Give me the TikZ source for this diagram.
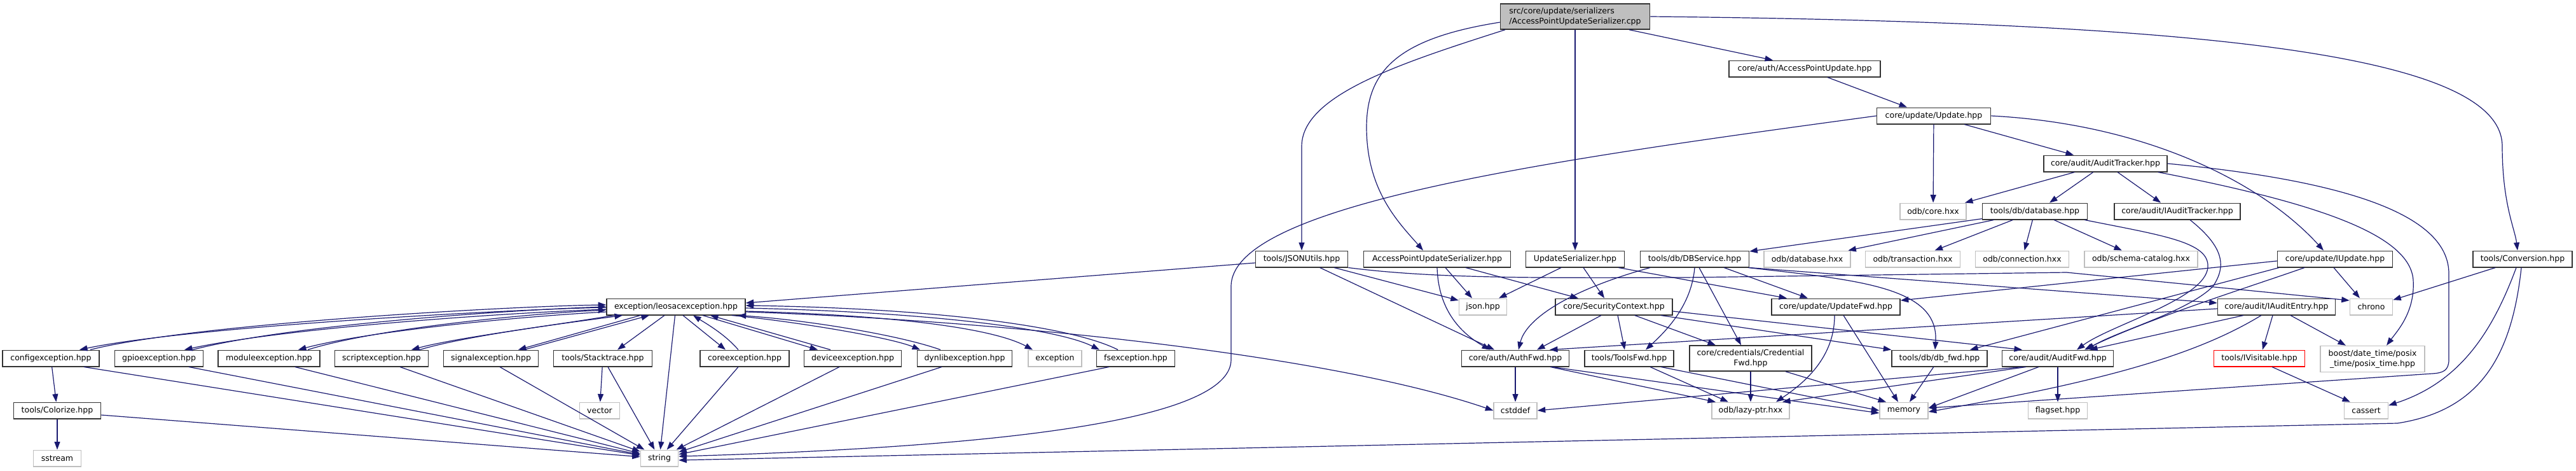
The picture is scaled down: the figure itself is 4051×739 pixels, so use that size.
\documentclass[tikz,border=0pt]{standalone}
\usepackage{fontspec}
\setmainfont{DejaVu Sans}
\usetikzlibrary{arrows.meta}
\definecolor{edgec}{HTML}{191970}
\definecolor{sysb}{HTML}{BFBFBF}
\definecolor{nodeb}{HTML}{333333}
\newcommand{\ndfont}{\fontsize{12.5pt}{15.5pt}\selectfont}
\begin{document}
\begin{tikzpicture}[x=1pt,y=-1pt,
  nd/.style={draw=nodeb, line width=1.5pt, fill=white, rectangle, minimum height=25.5pt, inner xsep=3pt, inner ysep=1pt, font=\ndfont, text=black},
  sysn/.style={nd, draw=sysb},
  redn/.style={nd, draw=red},
  ed/.style={draw=edgec, line width=1.2pt, -{Triangle[length=12.5pt,width=9pt]}}]
\useasboundingbox (0,0) rectangle (4051,739);
% ---------- nodes ----------
\node[nd, fill=sysb, align=left, minimum width=235pt, minimum height=40pt] (root) at (2477,26) {src/core/update/serializers\\/AccessPointUpdateSerializer.cpp};
\node[nd, minimum width=238pt] (apu) at (2838,108) {core/auth/AccessPointUpdate.hpp};
\node[nd, minimum width=179pt] (upd) at (3041,182) {core/update/Update.hpp};
\node[nd, minimum width=194pt] (atr) at (3311,257) {core/audit/AuditTracker.hpp};
\node[sysn, minimum width=104pt] (odbcore) at (3040,332) {odb/core.hxx};
\node[nd, minimum width=165pt] (dbh) at (3200,332) {tools/db/database.hpp};
\node[nd, minimum width=198pt] (iatr) at (3424,332) {core/audit/IAuditTracker.hpp};
% row 5
\node[nd, minimum width=145pt] (jsonu) at (2047,407) {tools/JSONUtils.hpp};
\node[nd, minimum width=231pt] (apus) at (2260,407) {AccessPointUpdateSerializer.hpp};
\node[nd, minimum width=155pt] (upser) at (2477,407) {UpdateSerializer.hpp};
\node[nd, minimum width=171pt] (dbs) at (2665,407) {tools/db/DBService.hpp};
\node[sysn, minimum width=136pt] (odbdb) at (2842,407) {odb/database.hxx};
\node[sysn, minimum width=149pt] (odbtr) at (3008,407) {odb/transaction.hxx};
\node[sysn, minimum width=147pt] (odbcn) at (3180,407) {odb/connection.hxx};
\node[sysn, minimum width=178pt] (odbsc) at (3367,407) {odb/schema-catalog.hxx};
\node[nd, minimum width=181pt] (iupd) at (3672,407) {core/update/IUpdate.hpp};
\node[nd, minimum width=156pt] (conv) at (3967,407) {tools/Conversion.hpp};
% row 6
\node[nd, minimum width=218pt] (leo) at (1063,482) {exception/leosacexception.hpp};
\node[sysn, minimum width=75pt] (json) at (2332,482) {json.hpp};
\node[nd, minimum width=184pt] (secctx) at (2538,482) {core/SecurityContext.hpp};
\node[nd, minimum width=202pt] (updfwd) at (2887,482) {core/update/UpdateFwd.hpp};
\node[nd, minimum width=185pt] (iae) at (3580,482) {core/audit/IAuditEntry.hpp};
\node[sysn, minimum width=67pt] (chrono) at (3729,482) {chrono};
% row 7
\node[nd, minimum width=152pt] (cfgx) at (80,563) {configexception.hpp};
\node[nd, minimum width=139pt] (gpiox) at (250,563) {gpioexception.hpp};
\node[nd, minimum width=160pt] (modx) at (423,563) {moduleexception.hpp};
\node[nd, minimum width=147pt] (scrx) at (600,563) {scriptexception.hpp};
\node[nd, minimum width=149pt] (sigx) at (772,563) {signalexception.hpp};
\node[nd, minimum width=155pt] (stk) at (948,563) {tools/Stacktrace.hpp};
\node[nd, minimum width=140pt] (corex) at (1171,563) {coreexception.hpp};
\node[nd, minimum width=153pt] (devx) at (1341,563) {deviceexception.hpp};
\node[nd, minimum width=149pt] (dynx) at (1517,563) {dynlibexception.hpp};
\node[sysn, minimum width=84pt] (exc) at (1659,563) {exception};
\node[nd, minimum width=123pt] (fsx) at (1786,563) {fsexception.hpp};
\node[nd, minimum width=169pt] (authfwd) at (2383,563) {core/auth/AuthFwd.hpp};
\node[nd, minimum width=140pt] (toolsfwd) at (2562,563) {tools/ToolsFwd.hpp};
\node[nd, align=center, minimum width=192pt, minimum height=40pt] (credfwd) at (2753,563) {core/credentials/Credential\\Fwd.hpp};
\node[nd, minimum width=150pt] (dbfwd) at (3050,563) {tools/db/db\_fwd.hpp};
\node[nd, minimum width=175pt] (auditfwd) at (3236,563) {core/audit/AuditFwd.hpp};
\node[redn, minimum width=143pt] (ivis) at (3553,563) {tools/IVisitable.hpp};
\node[sysn, align=center, minimum width=164pt, minimum height=41pt] (boost) at (3731,564) {boost/date\_time/posix\\\_time/posix\_time.hpp};
% row 8
\node[nd, minimum width=137pt] (colz) at (90,645) {tools/Colorize.hpp};
\node[sysn, minimum width=63pt] (vec) at (943,645) {vector};
\node[sysn, minimum width=68pt] (cstddef) at (2383,645) {cstddef};
\node[sysn, minimum width=122pt] (lazy) at (2753,645) {odb/lazy-ptr.hxx};
\node[sysn, minimum width=76pt] (memory) at (2994,645) {memory};
\node[sysn, minimum width=93pt] (flagset) at (3236,645) {flagset.hpp};
\node[sysn, minimum width=69pt] (cassert) at (3721,645) {cassert};
% row 9
\node[sysn, minimum width=75pt] (sstream) at (90,720) {sstream};
\node[sysn, minimum width=59pt] (string) at (1037,720) {string};
% ---------- edges ----------
% root
\draw[ed] ([yshift=-9pt]root.west) .. controls (2200,60) and (2149,110) .. (2149,200) .. controls (2149,300) and (2200,350) .. ([xshift=-22pt]apus.north);
\draw[ed] ([xshift=-110pt]root.south) .. controls (2200,100) and (2047,150) .. (2047,230) -- (jsonu.north);
\draw[ed] (root.south) -- (upser.north);
\draw[ed] ([xshift=85pt]root.south) -- ([xshift=-50pt]apu.north);
\draw[ed] (root.east) .. controls (3500,35) and (3935,90) .. (3935,230) .. controls (3935,320) and (3955,360) .. ([xshift=-8pt]conv.north);
% apu, update
\draw[ed] (apu) -- ([xshift=-42pt]upd.north);
\draw[ed] (upd) -- (odbcore);
\draw[ed] (upd) -- ([xshift=-50pt]atr.north);
\draw[ed] (upd.east) .. controls (3380,195) and (3560,290) .. ([xshift=-18pt]iupd.north);
\draw[ed] (upd.west) .. controls (2450,250) and (1936,320) .. (1936,450) -- (1936,565) .. controls (1936,650) and (1650,700) .. ([yshift=3pt]string.east);
% audit tracker
\draw[ed] (atr) -- ([xshift=50pt]odbcore.north);
\draw[ed] (atr) -- ([xshift=23pt]dbh.north);
\draw[ed] (atr) -- ([xshift=-26pt]iatr.north);
\draw[ed] ([xshift=-15pt]atr.south east) .. controls (3650,320) and (3790,370) .. (3795,440) .. controls (3798,490) and (3770,520) .. ([xshift=22pt]boost.north);
\draw[ed] (atr.east) .. controls (3700,285) and (3851,340) .. (3851,430) -- (3851,565) .. controls (3851,582) and (3842,586) .. (3825,587) -- ([yshift=4pt]memory.east);
% database
\draw[ed] (dbh) -- (dbs);
\draw[ed] (dbh) -- (odbdb);
\draw[ed] (dbh) -- (odbtr);
\draw[ed] (dbh) -- (odbcn);
\draw[ed] (dbh) -- (odbsc);
\draw[ed] ([xshift=-5pt]dbh.south east) .. controls (3400,370) and (3475,380) .. (3472,420) .. controls (3468,470) and (3320,510) .. ([xshift=30pt]auditfwd.north);
\draw[ed] ([xshift=20pt]iatr.south) .. controls (3500,390) and (3500,420) .. (3480,450) .. controls (3440,490) and (3330,520) .. ([xshift=45pt]auditfwd.north);
% JSONUtils
\draw[ed] ([yshift=-6pt]jsonu.west) -- ([yshift=6pt]leo.east);
\draw[ed] (jsonu) -- (json);
\draw[ed] (jsonu) -- ([xshift=-33pt]authfwd.north);
\draw[ed] (jsonu.south east) .. controls (2250,437) and (2400,437) .. (2650,436) -- (3250,428) -- ([yshift=10pt]chrono.west);
% AccessPointUpdateSerializer.hpp
\draw[ed] ([xshift=13pt]apus.south) -- ([xshift=-17pt]json.north);
\draw[ed] ([xshift=45pt]apus.south) -- ([xshift=-56pt]secctx.north);
\draw[ed] (apus.south) .. controls (2262,490) and (2300,525) .. ([xshift=-40pt]authfwd.north);
% UpdateSerializer
\draw[ed] ([xshift=-22pt]upser.south) -- ([xshift=25pt]json.north);
\draw[ed] ([xshift=13pt]upser.south) -- ([xshift=-15pt]secctx.north);
\draw[ed] ([xshift=-10pt]upser.south east) -- ([xshift=-77pt]updfwd.north);
% DBService
\draw[ed] ([xshift=-70pt]dbs.south) .. controls (2470,455) and (2400,500) .. ([xshift=5pt]authfwd.north);
\draw[ed] (dbs.south) .. controls (2660,480) and (2620,520) .. ([xshift=26pt]toolsfwd.north);
\draw[ed] ([xshift=7pt]dbs.south) -- ([xshift=-15pt]credfwd.north);
\draw[ed] ([xshift=-40pt]dbs.south east) -- ([xshift=-44pt]updfwd.north);
\draw[ed] ([xshift=-2pt]dbs.south east) .. controls (2920,440) and (3050,450) .. ([xshift=-7pt]dbfwd.north);
\draw[ed] (dbs.south east) -- ([yshift=6pt]iae.west);
% SecurityContext
\draw[ed] ([xshift=-20pt]secctx.south) -- ([xshift=34pt]authfwd.north);
\draw[ed] ([xshift=6pt]secctx.south) -- ([xshift=-7pt]toolsfwd.north);
\draw[ed] ([xshift=-60pt]secctx.south east) -- ([xshift=-55pt]credfwd.north);
\draw[ed] ([xshift=-19pt]secctx.south east) -- (dbfwd.north west);
\draw[ed] ([yshift=-7pt]secctx.east) -- ([xshift=-56pt]auditfwd.north);
% UpdateFwd
\draw[ed] ([xshift=-2pt]updfwd.south) .. controls (2885,560) and (2840,600) .. ([xshift=40pt]lazy.north);
\draw[ed] ([xshift=12pt]updfwd.south) -- ([xshift=-9pt]memory.north);
% IUpdate
\draw[ed] ([yshift=-3pt]iupd.west) -- ([yshift=10pt]updfwd.east);
\draw[ed] ([xshift=-2pt]iupd.south) -- ([xshift=-18pt]chrono.north);
\draw[ed] ([xshift=-48pt]iupd.south) .. controls (3540,450) and (3380,500) .. ([xshift=42pt]auditfwd.north);
\draw[ed] ([xshift=-88pt]iupd.south) -- ([xshift=48pt]dbfwd.north);
% IAuditEntry
\draw[ed] ([xshift=-52pt]iae.south) -- ([xshift=50pt]auditfwd.north);
\draw[ed] ([xshift=-6pt]iae.south) -- ([xshift=5pt]ivis.north);
\draw[ed] ([xshift=22pt]iae.south) -- ([xshift=-42pt]boost.north);
\draw[ed] ([xshift=-24pt]iae.south) .. controls (3450,560) and (3300,600) .. ([yshift=-2pt]memory.east);
\draw[ed] ([yshift=-3pt]iae.west) -- ([xshift=54pt]authfwd.north);
% IVisitable
\draw[ed] ([xshift=20pt]ivis.south) -- ([xshift=-25pt]cassert.north);
% forward headers
\draw[ed] (credfwd) -- (lazy);
\draw[ed] ([xshift=55pt]credfwd.south) -- ([xshift=-28pt]memory.north);
\draw[ed] ([xshift=33pt]toolsfwd.south) -- ([xshift=-35pt]lazy.north);
\draw[ed] ([xshift=50pt]toolsfwd.south) -- (memory.west);
\draw[ed] (authfwd) -- (cstddef);
\draw[ed] ([xshift=55pt]authfwd.south) -- ([xshift=-55pt]lazy.north);
\draw[ed] ([xshift=58pt]authfwd.south) -- ([yshift=-4pt]memory.west);
\draw[ed] (dbfwd) -- ([xshift=9pt]memory.north);
\draw[ed] ([xshift=-50pt]auditfwd.south) -- ([xshift=50pt]lazy.north);
\draw[ed] ([xshift=-56pt]auditfwd.south) -- (cstddef.east);
\draw[ed] ([xshift=-30pt]auditfwd.south) -- ([yshift=4pt]memory.east);
\draw[ed] (auditfwd) -- (flagset);
% Conversion
\draw[ed] (conv) -- (chrono);
\draw[ed] ([xshift=-10pt]conv.south) .. controls (3920,520) and (3870,600) .. ([yshift=8pt]cassert.east);
\draw[ed] ([xshift=-2pt]conv.south) .. controls (3950,560) and (3900,645) .. (3770,665) -- ([yshift=-3pt]string.east);
% leosacexception
\draw[ed] (leo) -- (string);
\draw[ed] ([xshift=-18pt]leo.south) -- ([xshift=23pt]stk.north);
\draw[ed] ([yshift=-8pt]leo.east) .. controls (1600,505) and (2100,560) .. (cstddef.west);
% exception pairs (left)
\draw[ed] ([yshift=-1pt]leo.west) .. controls (800,486) and (300,513) .. ([xshift=45pt]cfgx.north);
\draw[ed] ([xshift=62pt]cfgx.north) .. controls (300,509) and (800,481) .. ([yshift=3pt]leo.west);
\draw[ed] ([yshift=-4pt]leo.west) .. controls (800,491) and (450,515) .. ([xshift=40pt]gpiox.north);
\draw[ed] ([xshift=53pt]gpiox.north) .. controls (450,511) and (800,487) .. ([yshift=0pt]leo.west);
\draw[ed] ([yshift=-8pt]leo.west) .. controls (820,497) and (580,520) .. ([xshift=46pt]modx.north);
\draw[ed] ([xshift=61pt]modx.north) .. controls (590,516) and (830,493) .. ([yshift=-5pt]leo.west);
\draw[ed] ([xshift=-98pt]leo.south) .. controls (880,510) and (720,530) .. ([xshift=47pt]scrx.north);
\draw[ed] ([xshift=60pt]scrx.north) .. controls (735,527) and (895,507) .. ([xshift=-84pt]leo.south);
\draw[ed] ([xshift=-56pt]leo.south) -- ([xshift=43pt]sigx.north);
\draw[ed] ([xshift=52pt]sigx.north) -- ([xshift=-42pt]leo.south);
% exception pairs (right)
\draw[ed] ([xshift=11pt]leo.south) -- ([xshift=-30pt]corex.north);
\draw[ed] ([xshift=-10pt]corex.north) .. controls (1140,525) and (1110,508) .. ([xshift=27pt]leo.south);
\draw[ed] ([xshift=42pt]leo.south) -- ([xshift=-55pt]devx.north);
\draw[ed] ([xshift=-35pt]devx.north) -- ([xshift=54pt]leo.south);
\draw[ed] ([xshift=-22pt]leo.south east) .. controls (1250,505) and (1400,530) .. ([xshift=-70pt]dynx.north);
\draw[ed] ([xshift=-38pt]dynx.north) .. controls (1410,525) and (1260,502) .. ([xshift=-12pt]leo.south east);
\draw[ed] ([yshift=-7pt]leo.east) .. controls (1400,495) and (1560,515) .. ([xshift=-35pt]exc.north);
\draw[ed] ([yshift=-2pt]leo.east) .. controls (1450,490) and (1660,515) .. ([xshift=-57pt]fsx.north);
\draw[ed] ([xshift=-28pt]fsx.north) .. controls (1680,510) and (1450,484) .. ([yshift=2pt]leo.east);
% exceptions -> string
\draw[ed] ([xshift=52pt]cfgx.south) -- (string);
\draw[ed] ([xshift=47pt]gpiox.south) -- (string);
\draw[ed] ([xshift=41pt]modx.south) -- (string);
\draw[ed] ([xshift=29pt]scrx.south) -- (string);
\draw[ed] ([xshift=14pt]sigx.south) -- (string);
\draw[ed] ([xshift=8pt]stk.south) -- (string);
\draw[ed] ([xshift=-10pt]corex.south) -- (string);
\draw[ed] ([xshift=-21pt]devx.south) -- (string);
\draw[ed] ([xshift=-36pt]dynx.south) -- (string);
\draw[ed] ([xshift=-42pt]fsx.south) -- (string);
\draw[ed] (stk) -- (vec);
% Colorize
\draw[ed] (cfgx) -- (colz);
\draw[ed] (colz) -- (sstream);
\draw[ed] ([yshift=-7pt]colz.east) -- (string);
\end{tikzpicture}
\end{document}
